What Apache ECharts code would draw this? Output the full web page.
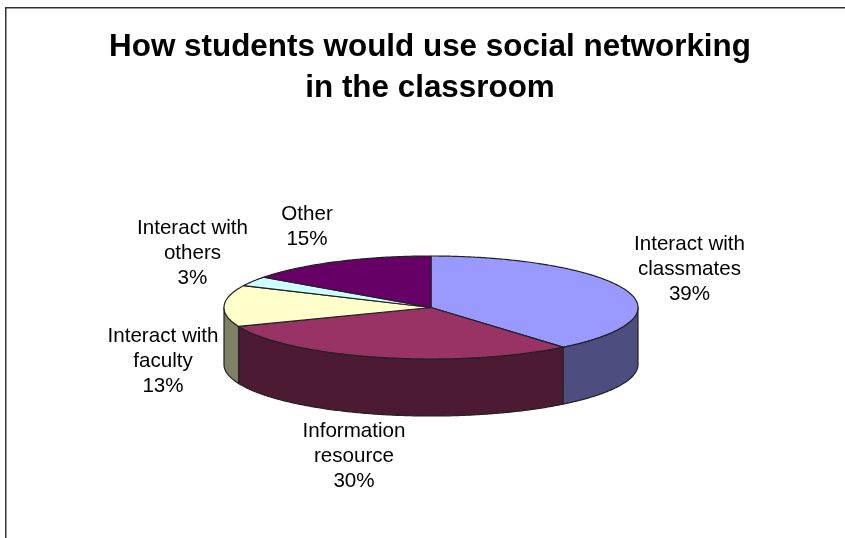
<!DOCTYPE html>
<html>
<head>
<meta charset="utf-8">
<style>html,body{margin:0;padding:0;background:#fff}#chart{width:845px;height:538px}</style>
<script src="https://cdn.jsdelivr.net/npm/echarts@6/dist/echarts.min.js"></script>
</head>
<body>
<div id="chart"></div>
<script>
// Survey shares, clockwise from twelve o'clock
const categories = ['Interact with\nclassmates', 'Information\nresource', 'Interact with\nfaculty', 'Interact with\nothers', 'Other'];
const shares = [39, 30, 13, 3, 15];

const topColors = ['#9999FF', '#993366', '#FFFFCC', '#CCFFFF', '#660066'];
const sideColors = ['#4D4D80', '#4D1A33', '#808066', '#668080', '#330033'];
const labelCentres = [[689.5, 269], [354, 456], [163, 361], [192.5, 253], [307, 227]];

// Tilted disc geometry
const disc = { cx: 431, cy: 307.5, rx: 207, ry: 51.5, depth: 57 };
const total = shares.reduce((a, b) => a + b, 0);

function rimPoint(angle, drop) {
  return [disc.cx + disc.rx * Math.sin(angle), disc.cy - disc.ry * Math.cos(angle) + drop];
}
function arcPoints(from, to, drop) {
  const steps = Math.max(2, Math.ceil((to - from) / 0.01));
  const pts = [];
  for (let i = 0; i <= steps; i++) pts.push(rimPoint(from + (to - from) * i / steps, drop));
  return pts;
}

function renderSlice(params, api) {
  const i = params.dataIndex;
  let before = 0;
  for (let k = 0; k < i; k++) before += shares[k];
  const a0 = before / total * 2 * Math.PI;
  const a1 = (before + api.value(1)) / total * 2 * Math.PI;
  const children = [];
  const stroke = { stroke: '#222', lineWidth: 1.2, lineJoin: 'round' };

  // The wall only shows along the near half of the rim
  const w0 = Math.max(a0, Math.PI / 2);
  const w1 = Math.min(a1, Math.PI * 3 / 2);
  if (w1 > w0) {
    const upper = arcPoints(w0, w1, 0);
    const lower = arcPoints(w0, w1, disc.depth).reverse();
    children.push({
      type: 'polygon',
      shape: { points: upper.concat(lower) },
      style: Object.assign({ fill: sideColors[i] }, stroke)
    });
  }
  children.push({
    type: 'polygon',
    shape: { points: [[disc.cx, disc.cy]].concat(arcPoints(a0, a1, 0)) },
    style: Object.assign({ fill: topColors[i] }, stroke)
  });
  children.push({
    type: 'text',
    style: {
      x: labelCentres[i][0],
      y: labelCentres[i][1],
      text: categories[i] + '\n' + api.value(1) + '%',
      align: 'center',
      verticalAlign: 'middle',
      fill: '#000',
      font: '20.6px "Liberation Sans", Arial, sans-serif',
      lineHeight: 25
    }
  });
  return { type: 'group', children };
}

const chart = echarts.init(document.getElementById('chart'), null, { renderer: 'canvas' });
chart.setOption({
  animation: false,
  backgroundColor: '#fff',
  title: {
    text: 'How students would use social networking\nin the classroom',
    left: 425,
    top: 22,
    textAlign: 'center',
    textStyle: {
      fontFamily: '"Liberation Sans", Arial, sans-serif',
      fontSize: 31.4,
      fontWeight: 'bold',
      lineHeight: 41,
      color: '#000'
    }
  },
  graphic: [{
    type: 'rect',
    shape: { x: 5.75, y: 7.75, width: 900, height: 600 },
    style: { fill: 'none', stroke: '#333', lineWidth: 1.5 },
    silent: true
  }],
  series: [{
    type: 'custom',
    coordinateSystem: 'none',
    renderItem: renderSlice,
    data: shares.map((v, i) => [i, v])
  }]
});
</script>
</body>
</html>
